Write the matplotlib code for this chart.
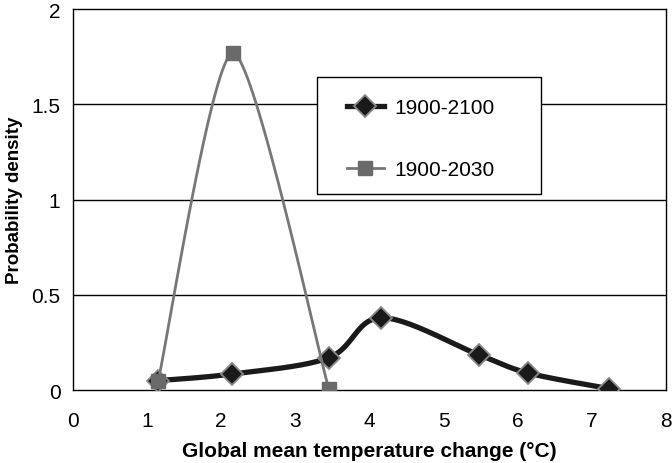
import numpy as np
import matplotlib
matplotlib.use("Agg")
import matplotlib.pyplot as plt
from matplotlib.patches import Rectangle

# Data
x_2100 = [1.15, 2.15, 3.45, 4.16, 5.48, 6.14, 7.23]
y_2100 = [0.05, 0.085, 0.17, 0.38, 0.185, 0.09, 0.008]
x_2030 = [1.15, 2.16, 3.45]
y_2030 = [0.05, 1.77, 0.008]
labels = ["1900-2100", "1900-2030"]
xticks = [0, 1, 2, 3, 4, 5, 6, 7, 8]
yticks = [0, 0.5, 1, 1.5, 2]
ytick_labels = ["0", "0.5", "1", "1.5", "2"]


def smooth(xs, ys, k=1 / 6.0, n=40):
    """Excel-style smoothed line (Catmull-Rom via cubic Bezier)."""
    P = np.column_stack([xs, ys]).astype(float)
    m = len(P)
    out = []
    t = np.linspace(0, 1, n)[:, None]
    for i in range(m - 1):
        p0 = P[i - 1] if i > 0 else P[i]
        p1, p2 = P[i], P[i + 1]
        p3 = P[i + 2] if i + 2 < m else P[i + 1]
        c1 = p1 + (p2 - p0) * k
        c2 = p2 - (p3 - p1) * k
        seg = ((1 - t) ** 3) * p1 + 3 * ((1 - t) ** 2) * t * c1 + 3 * (1 - t) * t ** 2 * c2 + t ** 3 * p2
        out.append(seg)
    arr = np.vstack(out)
    return arr[:, 0], arr[:, 1]


plt.rcParams['font.family'] = ['Liberation Sans', 'DejaVu Sans']
fig = plt.figure(figsize=(6.72, 4.64), dpi=100)
ax = fig.add_axes([0.1086, 0.157, 0.8825, 0.821])

ax.set_xlim(0, 8)
ax.set_ylim(0, 2)

for yv in yticks[1:-1]:
    ax.axhline(yv, color='black', lw=1.0, zorder=1)

sx, sy = smooth(x_2100, y_2100)
ax.plot(sx, sy, color='#1a1a1a', lw=3.8, zorder=3, solid_capstyle='round')
ax.plot(x_2100, y_2100, ls='none', marker='D', ms=11, mfc='#1a1a1a', mec='#8a8a8a', mew=1.3, zorder=4)

gx, gy = smooth(x_2030, y_2030, k=0.12)
ax.plot(gx, gy, color='#777777', lw=2.0, zorder=5)
ax.plot(x_2030, y_2030, ls='none', marker='s', ms=10, mfc='#6a6a6a', mec='#6a6a6a', zorder=6)

h1, = ax.plot([], [], color='#1a1a1a', lw=3.8, marker='D', ms=11, mfc='#1a1a1a', mec='#8a8a8a', mew=1.3)
h2, = ax.plot([], [], color='#777777', lw=2.0, marker='s', ms=10, mfc='#6a6a6a', mec='#6a6a6a')

# legend box
ax.add_patch(Rectangle((0.411, 0.514), 0.378, 0.308, transform=ax.transAxes,
                       facecolor='white', edgecolor='black', lw=1.0, zorder=7))
leg = ax.legend([h1, h2], labels, loc='center left', bbox_to_anchor=(0.43, 0.66),
                frameon=False, fontsize=15, labelspacing=2.05, handlelength=1.8,
                handletextpad=0.5)
leg.set_zorder(8)

ax.set_xticks(xticks)
ax.set_yticks(yticks)
ax.set_yticklabels(ytick_labels)
ax.tick_params(length=0, labelsize=15)
ax.tick_params(axis='x', pad=15)
ax.tick_params(axis='y', pad=9)
for s in ax.spines.values():
    s.set_color('black')
    s.set_linewidth(1.0)

ax.set_xlabel('Global mean temperature change (°C)', fontsize=15, fontweight='bold', labelpad=8)
ax.set_ylabel('Probability density', fontsize=13.5, fontweight='bold', labelpad=6)

fig.savefig('out.png', dpi=100)
